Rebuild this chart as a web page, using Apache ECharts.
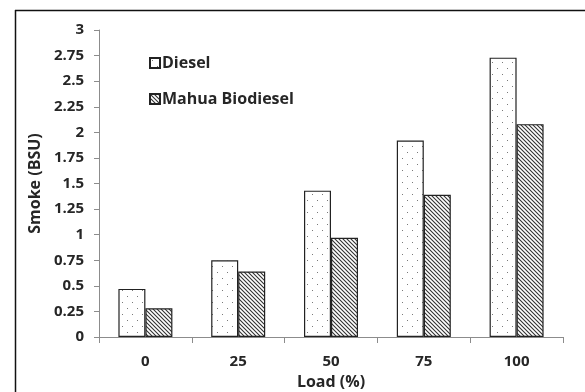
<!DOCTYPE html>
<html>
<head>
<meta charset="utf-8">
<script src="https://cdn.jsdelivr.net/npm/echarts@6/dist/echarts.min.js"></script>
<style>
html,body{margin:0;padding:0;background:#fff;}
#c{width:585px;height:392px;}
</style>
</head>
<body>
<div id="c"></div>
<script>
var categories = ['0', '25', '50', '75', '100'];
var dieselValues = [0.47, 0.75, 1.43, 1.92, 2.73];
var mahuaValues = [0.28, 0.64, 0.97, 1.39, 2.08];
var seriesNames = ['Diesel', 'Mahua Biodiesel'];

function dotPattern() {
  var c = document.createElement('canvas');
  c.width = 10; c.height = 12;
  var g = c.getContext('2d');
  g.fillStyle = '#ffffff'; g.fillRect(0, 0, 10, 12);
  g.fillStyle = '#7a7a7a';
  g.fillRect(2, 2, 1, 1);
  g.fillRect(7, 8, 1, 1);
  return c;
}
function hatchPattern() {
  var s = 4;
  var c = document.createElement('canvas');
  c.width = s; c.height = s;
  var g = c.getContext('2d');
  g.fillStyle = '#ffffff'; g.fillRect(0, 0, s, s);
  g.strokeStyle = '#333333'; g.lineWidth = 1.1;
  g.beginPath();
  g.moveTo(-1, -1); g.lineTo(s + 1, s + 1);
  g.moveTo(-1, s - 1); g.lineTo(1, s + 1);
  g.moveTo(s - 1, -1); g.lineTo(s + 1, 1);
  g.stroke();
  return c;
}

var chart = echarts.init(document.getElementById('c'));
var font = '"Open Sans", sans-serif';
chart.setOption({
  animation: false,
  backgroundColor: '#ffffff',
  graphic: [
    { type: 'line', shape: { x1: 15, y1: 10.5, x2: 585, y2: 10.5 }, style: { stroke: '#111', lineWidth: 1.5 } },
    { type: 'line', shape: { x1: 15.5, y1: 10, x2: 15.5, y2: 392 }, style: { stroke: '#111', lineWidth: 1.5 } }
  ],
  grid: { left: 99, right: 22, top: 30, bottom: 55, containLabel: false, outerBoundsMode: 'none' },
  legend: {
    orient: 'vertical',
    left: 144, top: 50,
    itemWidth: 10, itemHeight: 10,
    itemGap: 20,
    icon: 'rect',
    textStyle: { fontFamily: font, fontWeight: 'bold', fontSize: 16, color: '#262626', padding: [0, 0, 0, -3] },
    data: seriesNames
  },
  xAxis: {
    type: 'category',
    data: categories,
    name: 'Load (%)',
    nameLocation: 'middle',
    nameGap: 37,
    nameTextStyle: { fontFamily: font, fontWeight: 'bold', fontSize: 16, color: '#262626' },
    axisLine: { lineStyle: { color: '#8c8c8c', width: 1 } },
    axisTick: { show: true, alignWithLabel: false, length: 6, lineStyle: { color: '#8c8c8c' } },
    axisLabel: { margin: 17, fontFamily: font, fontWeight: 'bold', fontSize: 15, color: '#262626' }
  },
  yAxis: {
    type: 'value',
    min: 0, max: 3, interval: 0.25,
    name: 'Smoke (BSU)',
    nameLocation: 'middle',
    nameGap: 40,
    nameTextStyle: { fontFamily: font, fontWeight: 'bold', fontSize: 16, color: '#262626' },
    axisLine: { show: true, lineStyle: { color: '#8c8c8c', width: 1 } },
    axisTick: { show: true, length: 5, lineStyle: { color: '#8c8c8c' } },
    splitLine: { show: false },
    axisLabel: { margin: 15, fontFamily: font, fontWeight: 'bold', fontSize: 15, color: '#262626' }
  },
  series: [
    {
      name: seriesNames[0], type: 'bar', data: dieselValues,
      barWidth: 27, barGap: '0%',
      itemStyle: { color: { image: dotPattern(), repeat: 'repeat' }, borderColor: '#222', borderWidth: 1.2 }
    },
    {
      name: seriesNames[1], type: 'bar', data: mahuaValues,
      barWidth: 27, barGap: '0%',
      itemStyle: { color: { image: hatchPattern(), repeat: 'repeat' }, borderColor: '#222', borderWidth: 1.2 }
    }
  ]
});
</script>
</body>
</html>
